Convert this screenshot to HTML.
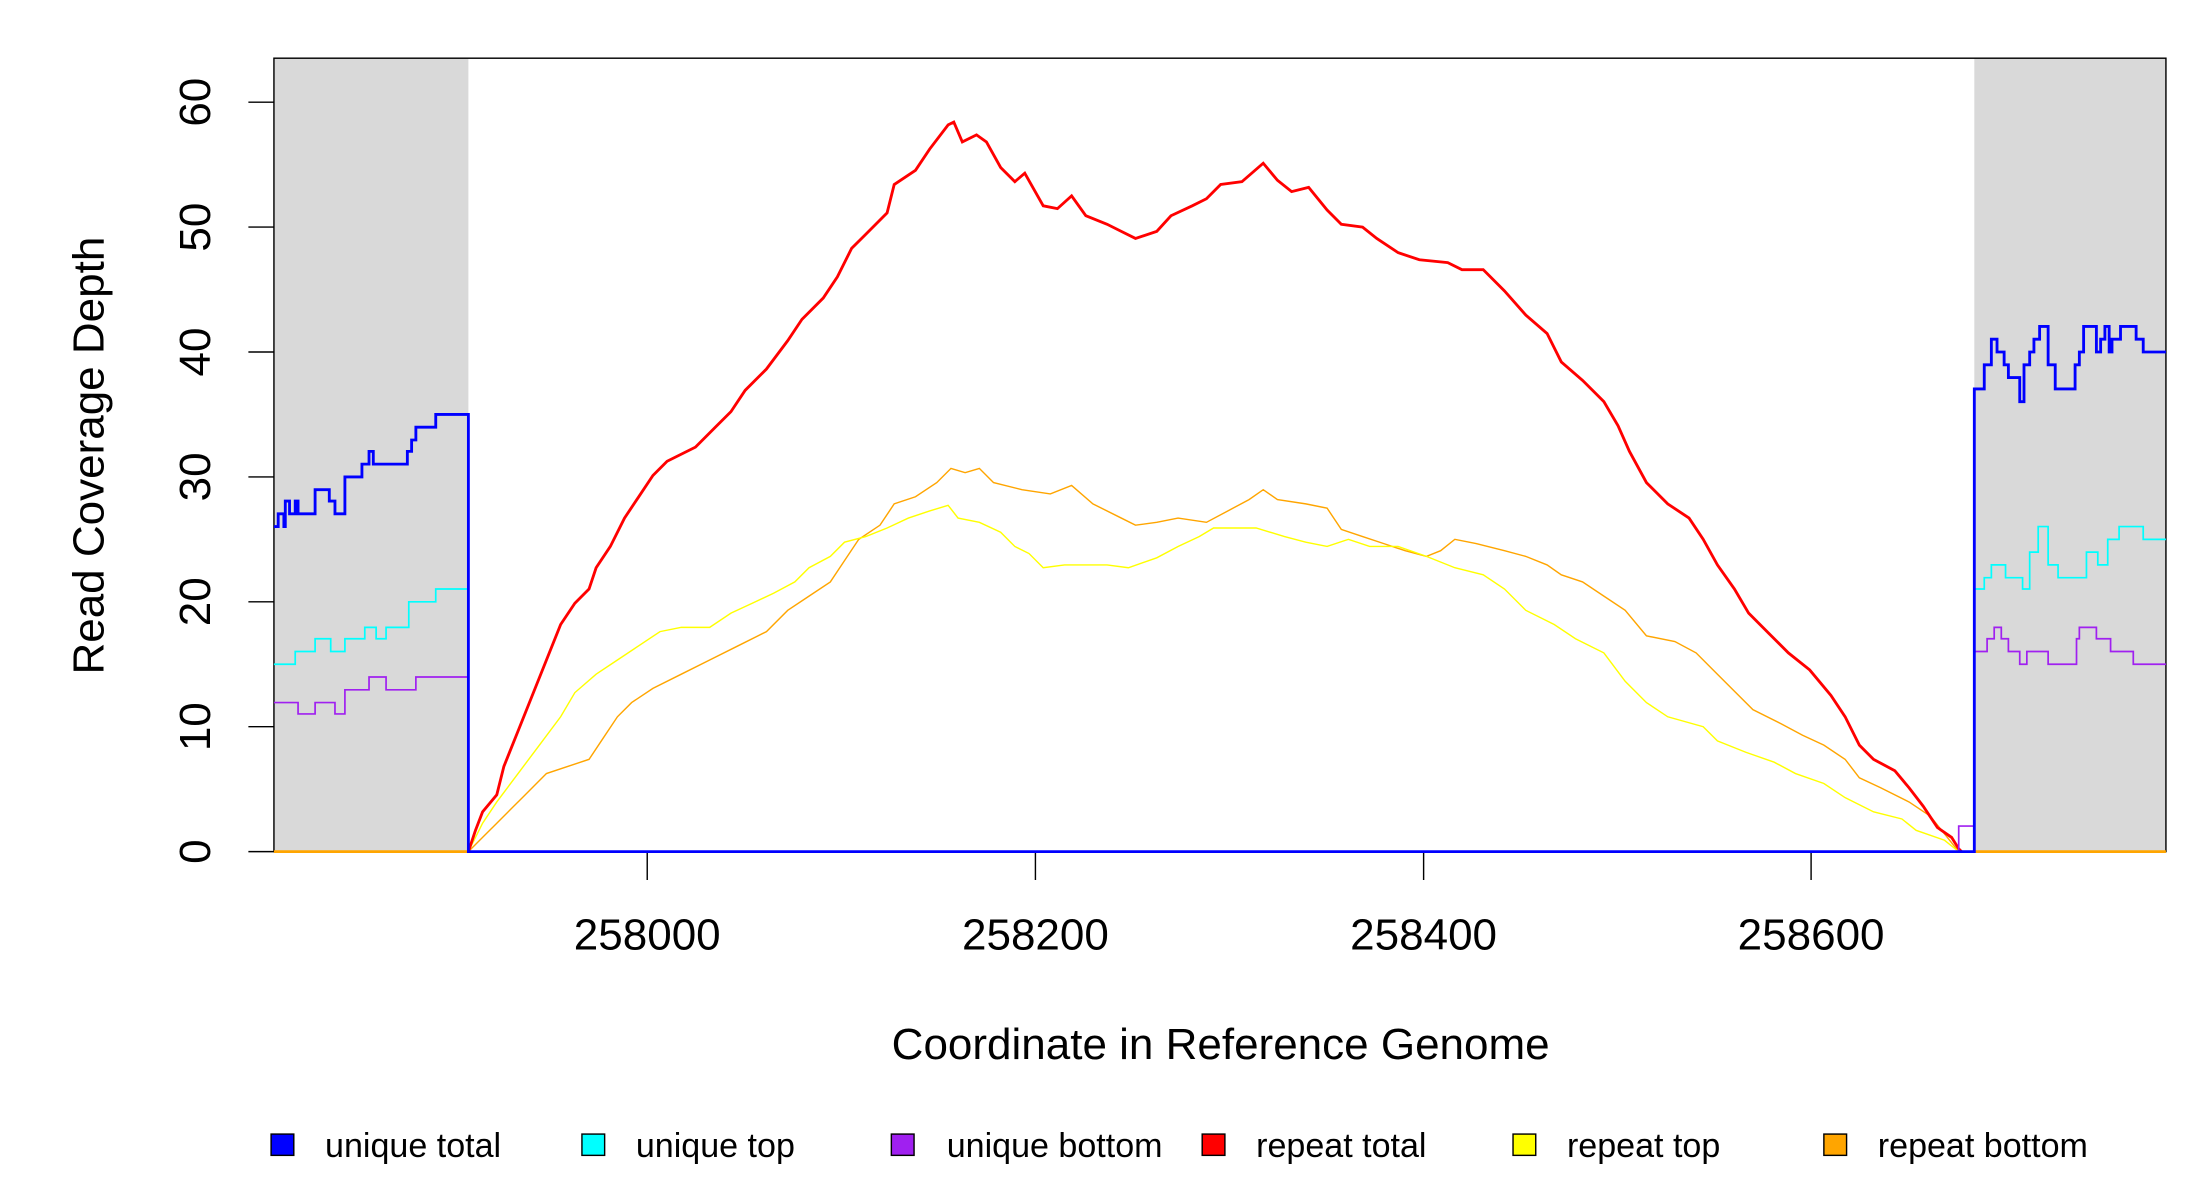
<!DOCTYPE html>
<html><head><meta charset="utf-8"><style>
html,body{margin:0;padding:0;background:#fff;width:2200px;height:1200px;overflow:hidden}
svg{display:block}
text{font-family:"Liberation Sans",Arial,sans-serif;fill:#000}
</style></head><body>
<svg width="2200" height="1200" viewBox="0 0 1550 845.45" preserveAspectRatio="none" xmlns="http://www.w3.org/2000/svg">
<rect x="0" y="0" width="1550" height="846" fill="#fff"/>
<rect x="193" y="41" width="137" height="559" fill="#d9d9d9"/>
<rect x="1391" y="41" width="135" height="559" fill="#d9d9d9"/>
<rect x="193" y="41" width="1333" height="559" fill="none" stroke="#000" stroke-width="1"/>
<g stroke="#000" stroke-width="1">
<line x1="175" y1="600" x2="193" y2="600"/><line x1="175" y1="512" x2="193" y2="512"/>
<line x1="175" y1="424" x2="193" y2="424"/><line x1="175" y1="336" x2="193" y2="336"/>
<line x1="175" y1="248" x2="193" y2="248"/><line x1="175" y1="160" x2="193" y2="160"/>
<line x1="175" y1="72" x2="193" y2="72"/>
<line x1="456" y1="600" x2="456" y2="620"/><line x1="729.5" y1="600" x2="729.5" y2="620"/>
<line x1="1003" y1="600" x2="1003" y2="620"/><line x1="1276" y1="600" x2="1276" y2="620"/>
</g>
<g font-size="31" text-anchor="middle">
<text transform="translate(148,600) rotate(-90)">0</text>
<text transform="translate(148,512) rotate(-90)">10</text>
<text transform="translate(148,424) rotate(-90)">20</text>
<text transform="translate(148,336) rotate(-90)">30</text>
<text transform="translate(148,248) rotate(-90)">40</text>
<text transform="translate(148,160) rotate(-90)">50</text>
<text transform="translate(148,72) rotate(-90)">60</text>
<text x="456" y="669">258000</text><text x="729.5" y="669">258200</text>
<text x="1003" y="669">258400</text><text x="1276" y="669">258600</text>
<text x="860" y="746">Coordinate in Reference Genome</text>
<text transform="translate(73,321) rotate(-90)">Read Coverage Depth</text>
</g>
<g fill="none" stroke-linejoin="miter">
<polyline stroke="#ffa500" stroke-width="1" points="330,600 340,590 350,580 360,570 370,560 385,545 400,540 415,535 425,520 435,505 445,495 460,485 480,475 500,465 520,455 540,445 555,430 570,420 585,410 595,395 605,380 620,370 630,355 645,350 660,340 670,330 680,333 690,330 700,340 720,345 740,348 755,342 770,355 790,365 800,370 815,368 830,365 850,368 865,360 880,352 890,345 900,352 920,355 935,358 945,373 960,378 975,383 990,388 1005,392 1015,388 1025,380 1040,383 1060,388 1075,392 1090,398 1100,405 1115,410 1130,420 1145,430 1160,448 1180,452 1195,460 1210,475 1225,490 1235,500 1255,510 1270,518 1285,525 1300,535 1310,548 1325,555 1345,565 1360,575 1372,590 1380,600"/>
<polyline stroke="#ffff00" stroke-width="1" points="330,600 340,580 350,565 365,545 380,525 395,505 405,488 420,475 435,465 450,455 465,445 480,442 500,442 515,432 530,425 545,418 560,410 570,400 585,392 595,382 610,378 625,372 640,365 655,360 668,356 675,365 690,368 705,375 715,385 725,390 735,400 750,398 765,398 780,398 795,400 815,393 830,385 845,378 855,372 870,372 885,372 905,378 920,382 935,385 950,380 965,385 985,385 1005,392 1025,400 1045,405 1060,415 1075,430 1095,440 1110,450 1130,460 1145,480 1160,495 1175,505 1200,512 1210,522 1230,530 1250,537 1265,545 1285,552 1300,562 1320,572 1340,577 1350,585 1370,592 1380,600"/>
<polyline stroke="#ff0000" stroke-width="2" points="330,600 335,585 340,572 350,560 355,540 365,515 375,490 385,465 395,440 405,425 415,415 420,400 430,385 440,365 450,350 460,335 470,325 490,315 505,300 515,290 525,275 540,260 555,240 565,225 580,210 590,195 600,175 610,165 625,150 630,130 645,120 655,105 668,88 672,86 678,100 688,95 695,100 705,118 715,128 722,122 735,145 745,147 755,138 765,152 780,158 790,163 800,168 815,163 825,152 840,145 850,140 860,130 875,128 890,115 900,127 910,135 922,132 935,148 945,158 960,160 970,168 985,178 1000,183 1020,185 1030,190 1045,190 1060,205 1075,222 1090,235 1100,255 1115,268 1130,283 1140,300 1148,318 1160,340 1175,355 1190,365 1200,380 1210,398 1222,415 1232,432 1245,445 1260,460 1275,472 1290,490 1300,505 1310,525 1320,535 1335,543 1345,555 1355,568 1365,583 1375,590 1380,598 1382,600"/>
<line x1="193" y1="600" x2="330" y2="600" stroke="#ffa500" stroke-width="2"/>
<line x1="1391" y1="600" x2="1526" y2="600" stroke="#ffa500" stroke-width="2"/>
<line x1="330" y1="600" x2="1391" y2="600" stroke="#0000ff" stroke-width="1.5"/>
<polyline stroke="#a020f0" stroke-width="1.2" points="193,495 210,495 210,503 222,503 222,495 236,495 236,503 243,503 243,486 260,486 260,477 272,477 272,486 293,486 293,477 330,477 330,600 1380,600 1380,582 1391,582 1391,459 1400,459 1400,450 1405,450 1405,442 1410,442 1410,450 1415,450 1415,459 1423,459 1423,468 1428,468 1428,459 1443,459 1443,468 1463,468 1463,450 1465,450 1465,442 1477,442 1477,450 1487,450 1487,459 1503,459 1503,468 1526,468"/>
<polyline stroke="#00ffff" stroke-width="1.2" points="193,468 208,468 208,459 222,459 222,450 233,450 233,459 243,459 243,450 257,450 257,442 265,442 265,450 272,450 272,442 288,442 288,424 307,424 307,415 330,415 330,600 1391,600 1391,415 1398,415 1398,407 1403,407 1403,398 1413,398 1413,407 1425,407 1425,415 1430,415 1430,389 1436,389 1436,371 1443,371 1443,398 1450,398 1450,407 1470,407 1470,389 1478,389 1478,398 1485,398 1485,380 1493,380 1493,371 1510,371 1510,380 1526,380"/>
<polyline stroke="#0000ff" stroke-width="2" points="193,371 196,371 196,362 200,362 200,371 201,371 201,353 204,353 204,362 208,362 208,353 210,353 210,362 222,362 222,345 232,345 232,353 236,353 236,362 243,362 243,336 255,336 255,327 260,327 260,318 263,318 263,327 287,327 287,318 290,318 290,310 293,310 293,301 307,301 307,292 330,292 330,600 1391,600 1391,274 1398,274 1398,257 1403,257 1403,239 1407,239 1407,248 1412,248 1412,257 1415,257 1415,266 1423,266 1423,283 1426,283 1426,257 1430,257 1430,248 1433,248 1433,239 1437,239 1437,230 1443,230 1443,257 1448,257 1448,274 1462,274 1462,257 1465,257 1465,248 1468,248 1468,230 1477,230 1477,248 1480,248 1480,239 1483,239 1483,230 1486,230 1486,248 1488,248 1488,239 1494,239 1494,230 1505,230 1505,239 1510,239 1510,248 1526,248"/>
</g>
<g stroke="#000" stroke-width="1">
<rect x="191" y="799" width="16" height="15" fill="#0000ff"/>
<rect x="410" y="799" width="16" height="15" fill="#00ffff"/>
<rect x="628" y="799" width="16" height="15" fill="#a020f0"/>
<rect x="847" y="799" width="16" height="15" fill="#ff0000"/>
<rect x="1066" y="799" width="16" height="15" fill="#ffff00"/>
<rect x="1285" y="799" width="16" height="15" fill="#ffa500"/>
</g>
<g font-size="24">
<text x="229" y="815">unique total</text>
<text x="448" y="815">unique top</text>
<text x="667" y="815">unique bottom</text>
<text x="885" y="815">repeat total</text>
<text x="1104" y="815">repeat top</text>
<text x="1323" y="815">repeat bottom</text>
</g>
</svg>
</body></html>
